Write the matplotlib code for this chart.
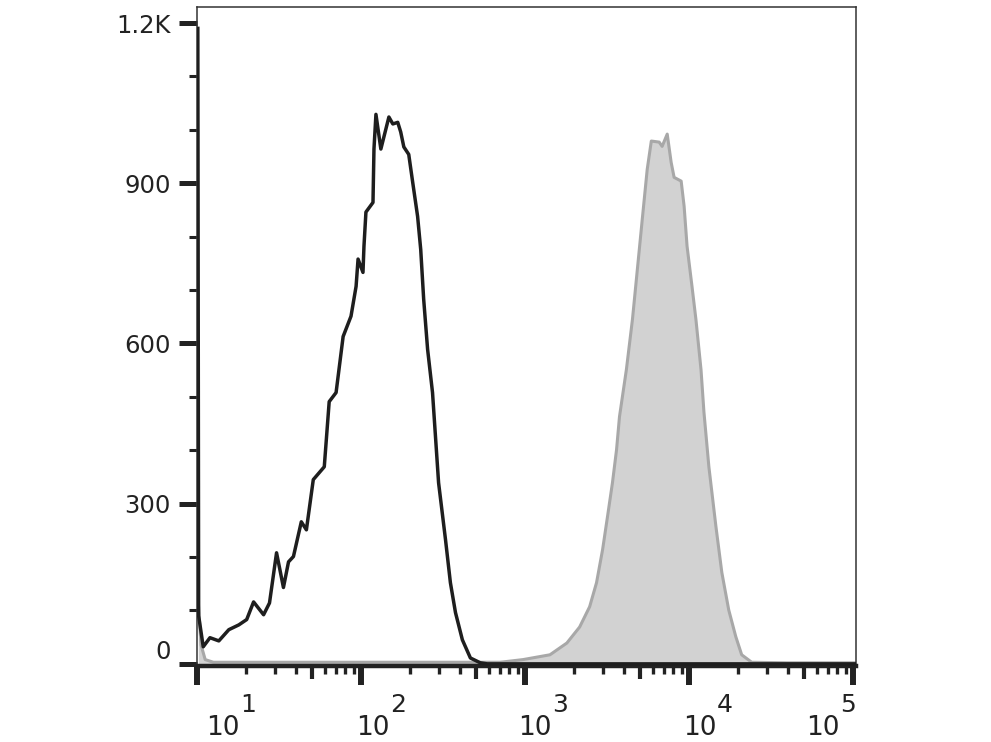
import numpy as np
import matplotlib
matplotlib.use("Agg")
import matplotlib.pyplot as plt
from matplotlib.ticker import FixedLocator, NullFormatter, NullLocator
import matplotlib.transforms as mtransforms

plt.rcParams['font.family'] = ['DejaVu Sans']

# ---------------- data ----------------
# unstained / isotype control (black outline), x = fluorescence intensity (log10), y = count
iso_log10 = [1.005, 1.010, 1.038, 1.079, 1.133, 1.194, 1.255, 1.303, 1.345, 1.406, 1.442,
             1.485, 1.527, 1.558, 1.588, 1.636, 1.667, 1.709, 1.776, 1.806, 1.848,
             1.891, 1.939, 1.970, 1.982, 2.012, 2.018, 2.030, 2.073, 2.079, 2.091,
             2.121, 2.170, 2.194, 2.224, 2.242, 2.261, 2.291, 2.315, 2.345, 2.364,
             2.382, 2.406, 2.436, 2.473, 2.515, 2.545, 2.576, 2.618, 2.667, 2.727,
             2.770, 3.000, 4.000, 5.018]
iso_count = [1190, 90, 32, 49, 43, 64, 73, 83, 116, 92, 114,
             208, 143, 191, 201, 266, 251, 345, 369, 491, 508,
             613, 651, 707, 758, 733, 782, 846, 864, 964, 1029,
             964, 1024, 1011, 1014, 996, 968, 954, 902, 838, 776,
             683, 589, 508, 339, 233, 152, 96, 45, 11, 2,
             0, 0, 0, 0]

# stained sample (grey filled)
stain_log10 = [1.008, 1.025, 1.050, 1.100, 1.500, 2.000, 2.500, 2.848, 2.988, 3.152,
               3.255, 3.333, 3.394, 3.436, 3.473, 3.503, 3.533, 3.558, 3.576, 3.618,
               3.655, 3.685, 3.715, 3.745, 3.770, 3.818, 3.836, 3.867, 3.891, 3.909,
               3.952, 3.970, 3.988, 4.018, 4.042, 4.073, 4.091, 4.121, 4.164, 4.200,
               4.242, 4.285, 4.321, 4.382, 4.600, 5.018]
stain_count = [115, 35, 8, 3, 3, 3, 3, 3, 8, 17,
               39, 69, 107, 152, 214, 276, 339, 401, 463, 551,
               645, 739, 833, 926, 979, 977, 969, 992, 939, 911,
               904, 857, 782, 707, 645, 551, 471, 369, 257, 171,
               101, 51, 17, 3, 2, 2]

y_ticks = [0, 300, 600, 900, 1200]
y_ticklabels = ['0', '300', '600', '900', '1.2K']
x_decades = [1, 2, 3, 4, 5]

# ---------------- figure ----------------
W, H = 991, 742
fig = plt.figure(figsize=(W / 100, H / 100), dpi=100)
ax = fig.add_axes([197 / W, 76 / H, 659 / W, 659 / H])

ink = '#222222'
x_iso = np.power(10.0, iso_log10)
x_st = np.power(10.0, stain_log10)

ax.fill_between(x_st, stain_count, 0, color='#d2d2d2', linewidth=0, zorder=1)
ax.plot(x_st, stain_count, color='#a8a8a8', lw=2.2, zorder=2)
ax.plot(x_iso, iso_count, color='#1e1e1e', lw=2.5, zorder=3)

ax.set_xscale('log')
ax.set_xlim(10, 10 ** 5.018)
ax.set_ylim(-4, 1230)

# spines
for s in ['top', 'right', 'left']:
    ax.spines[s].set_linewidth(1.1)
    ax.spines[s].set_color('#333333')
ax.spines['bottom'].set_linewidth(3.2)
ax.spines['bottom'].set_color(ink)

# y ticks
ax.yaxis.set_major_locator(FixedLocator(y_ticks))
ax.set_yticklabels(y_ticklabels)
ax.yaxis.set_minor_locator(FixedLocator([v for v in range(100, 1200, 100) if v % 300]))
ax.tick_params(axis='y', which='major', length=13, width=3.6, color=ink,
               labelsize=17.5, labelcolor=ink, pad=6)
ax.tick_params(axis='y', which='minor', length=5.8, width=2.2, color=ink)
for lab in ax.get_yticklabels():
    if lab.get_text() == '0':
        lab.set_verticalalignment('bottom')

# x ticks (log decades, minor 2-9, medium at 5)
ax.xaxis.set_major_locator(FixedLocator([10.0 ** d for d in x_decades]))
minors = [m * 10.0 ** d for d in range(1, 5) for m in (2, 3, 4, 6, 7, 8, 9)]
ax.xaxis.set_minor_locator(FixedLocator(minors))
ax.xaxis.set_major_formatter(NullFormatter())
ax.xaxis.set_minor_formatter(NullFormatter())
ax.tick_params(axis='x', which='major', length=13.5, width=4.3, color=ink)
ax.tick_params(axis='x', which='minor', length=5.5, width=2.4, color=ink)

sec = ax.secondary_xaxis('bottom')
sec.set_xticks([5 * 10.0 ** d for d in range(1, 5)])
sec.xaxis.set_minor_locator(NullLocator())
sec.tick_params(axis='x', which='major', length=9, width=3.0, color=ink,
                labelbottom=False)
sec.spines['bottom'].set_visible(False)

# x tick labels "10" + large superscript exponent
trans = mtransforms.blended_transform_factory(ax.transData, ax.transAxes)
anchor_px = [240, 390, 552, 717, 840]
for d, px in zip(x_decades, anchor_px):
    xa = 10 ** (1 + (px - 197) / 164.0)
    ax.text(xa, -0.1047, '10', transform=trans, ha='right', va='baseline',
            fontsize=19, color=ink, clip_on=False)
    ax.text(xa, -0.0698, str(d), transform=trans, ha='left', va='baseline',
            fontsize=18, color=ink, clip_on=False)

fig.savefig('out.png', dpi=100)
